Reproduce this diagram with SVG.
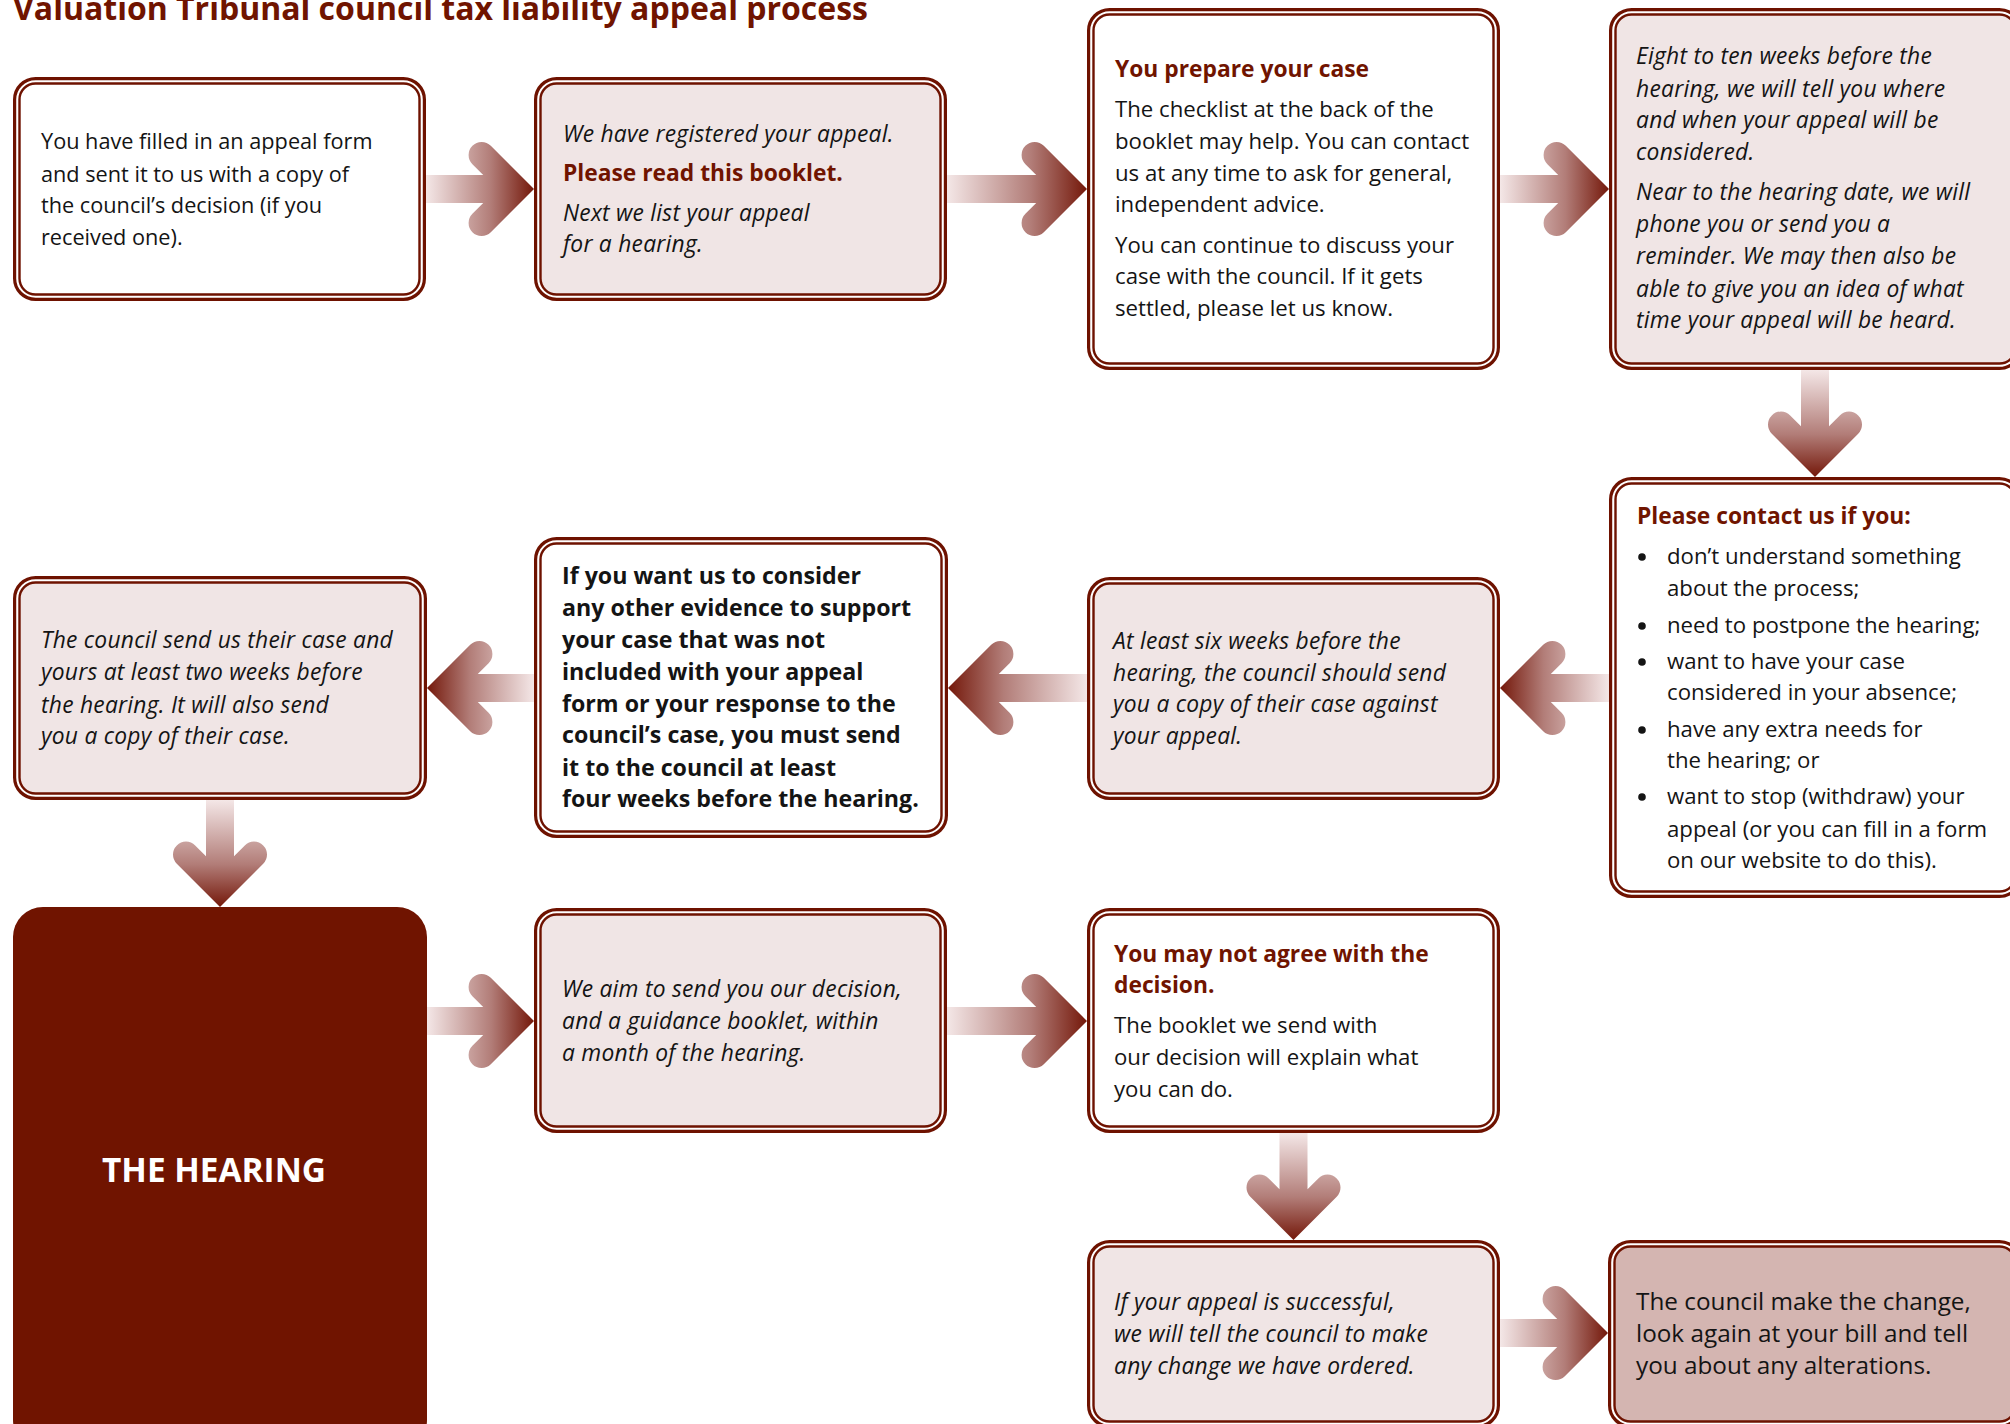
<svg xmlns="http://www.w3.org/2000/svg" width="2010" height="1424" viewBox="0 0 2010 1424">
<defs>
<linearGradient id="ag" x1="0" y1="0" x2="1" y2="0">
<stop offset="0" stop-color="#f4e7e7"/>
<stop offset="0.6" stop-color="#b27d78"/>
<stop offset="1" stop-color="#74180a"/>
</linearGradient>
<style>
.o{fill:#fff;stroke:#6e1200;stroke-width:3.2}
.i{stroke:#6e1200;stroke-width:2.4}
.w{fill:#fff}.p{fill:#f0e5e5}.d{fill:#d4b5b1}
.a{fill:url(#ag)}
text{font-family:"Open Sans","Noto Sans","DejaVu Sans",sans-serif;font-size:22.2px;fill:#141414}
.s{font-size:21.7px}
.it{font-style:italic;font-size:22.8px;letter-spacing:0.25px}
.b{font-weight:bold;font-size:23.2px}
.r{fill:#701400;font-weight:bold;font-size:22.8px}
.t{fill:#701400;font-weight:bold;font-size:32px}
.big{font-size:24.3px}
.h{fill:#fff;font-weight:bold;font-size:33.4px}
</style>
</defs>
<text class="t" x="13" y="20">Valuation Tribunal council tax liability appeal process</text>
<g id="connectors">
<path class="a" transform="translate(534,189)" d="M0,0 L-43.2,-43.2 A13,13 0 0 0 -61.6,-24.8 L-50.8,-14 L-108,-14 L-108,14 L-50.8,14 L-61.6,24.8 A13,13 0 0 0 -43.2,43.2 Z"/>
<path class="a" transform="translate(1087,189)" d="M0,0 L-43.2,-43.2 A13,13 0 0 0 -61.6,-24.8 L-50.8,-14 L-140,-14 L-140,14 L-50.8,14 L-61.6,24.8 A13,13 0 0 0 -43.2,43.2 Z"/>
<path class="a" transform="translate(1609,189)" d="M0,0 L-43.2,-43.2 A13,13 0 0 0 -61.6,-24.8 L-50.8,-14 L-109,-14 L-109,14 L-50.8,14 L-61.6,24.8 A13,13 0 0 0 -43.2,43.2 Z"/>
<path class="a" transform="translate(1815,477) rotate(90)" d="M0,0 L-43.2,-43.2 A13,13 0 0 0 -61.6,-24.8 L-50.8,-14 L-107,-14 L-107,14 L-50.8,14 L-61.6,24.8 A13,13 0 0 0 -43.2,43.2 Z"/>
<path class="a" transform="translate(1500,688) rotate(180)" d="M0,0 L-43.2,-43.2 A13,13 0 0 0 -61.6,-24.8 L-50.8,-14 L-109,-14 L-109,14 L-50.8,14 L-61.6,24.8 A13,13 0 0 0 -43.2,43.2 Z"/>
<path class="a" transform="translate(948,688) rotate(180)" d="M0,0 L-43.2,-43.2 A13,13 0 0 0 -61.6,-24.8 L-50.8,-14 L-139,-14 L-139,14 L-50.8,14 L-61.6,24.8 A13,13 0 0 0 -43.2,43.2 Z"/>
<path class="a" transform="translate(427,688) rotate(180)" d="M0,0 L-43.2,-43.2 A13,13 0 0 0 -61.6,-24.8 L-50.8,-14 L-107,-14 L-107,14 L-50.8,14 L-61.6,24.8 A13,13 0 0 0 -43.2,43.2 Z"/>
<path class="a" transform="translate(220,907) rotate(90)" d="M0,0 L-43.2,-43.2 A13,13 0 0 0 -61.6,-24.8 L-50.8,-14 L-107,-14 L-107,14 L-50.8,14 L-61.6,24.8 A13,13 0 0 0 -43.2,43.2 Z"/>
<path class="a" transform="translate(534,1021)" d="M0,0 L-43.2,-43.2 A13,13 0 0 0 -61.6,-24.8 L-50.8,-14 L-107,-14 L-107,14 L-50.8,14 L-61.6,24.8 A13,13 0 0 0 -43.2,43.2 Z"/>
<path class="a" transform="translate(1087,1021)" d="M0,0 L-43.2,-43.2 A13,13 0 0 0 -61.6,-24.8 L-50.8,-14 L-140,-14 L-140,14 L-50.8,14 L-61.6,24.8 A13,13 0 0 0 -43.2,43.2 Z"/>
<path class="a" transform="translate(1293.5,1240) rotate(90)" d="M0,0 L-43.2,-43.2 A13,13 0 0 0 -61.6,-24.8 L-50.8,-14 L-107,-14 L-107,14 L-50.8,14 L-61.6,24.8 A13,13 0 0 0 -43.2,43.2 Z"/>
<path class="a" transform="translate(1608,1333)" d="M0,0 L-43.2,-43.2 A13,13 0 0 0 -61.6,-24.8 L-50.8,-14 L-108,-14 L-108,14 L-50.8,14 L-61.6,24.8 A13,13 0 0 0 -43.2,43.2 Z"/>
</g>
<g id="n1">
<rect class="o" x="14.6" y="78.6" width="409.8" height="220.8" rx="21"/>
<rect class="i w" x="19.5" y="83.5" width="400" height="211" rx="16"/>
<text class="s" x="41" y="149">You have filled in an appeal form</text>
<text class="s" x="41" y="182">and sent it to us with a copy of</text>
<text class="s" x="41" y="213">the council’s decision (if you</text>
<text class="s" x="41" y="245">received one).</text>
</g>
<g id="n2">
<rect class="o" x="535.6" y="78.6" width="409.8" height="220.8" rx="21"/>
<rect class="i p" x="540.5" y="83.5" width="400" height="211" rx="16"/>
<text class="it" x="563" y="142">We have registered your appeal.</text>
<text class="r" x="563" y="181">Please read this booklet.</text>
<text class="it" x="563" y="221">Next we list your appeal</text>
<text class="it" x="563" y="252">for a hearing.</text>
</g>
<g id="n3">
<rect class="o" x="1088.6" y="9.6" width="409.8" height="358.8" rx="21"/>
<rect class="i w" x="1093.5" y="14.5" width="400" height="349" rx="16"/>
<text class="r" x="1115" y="77">You prepare your case</text>
<text x="1115" y="117">The checklist at the back of the</text>
<text x="1115" y="149">booklet may help. You can contact</text>
<text x="1115" y="181">us at any time to ask for general,</text>
<text x="1115" y="212">independent advice.</text>
<text x="1115" y="253">You can continue to discuss your</text>
<text x="1115" y="284">case with the council. If it gets</text>
<text x="1115" y="316">settled, please let us know.</text>
</g>
<g id="n4">
<rect class="o" x="1610.6" y="9.6" width="409.8" height="358.8" rx="21"/>
<rect class="i p" x="1615.5" y="14.5" width="400" height="349" rx="16"/>
<text class="it" x="1636" y="64">Eight to ten weeks before the</text>
<text class="it" x="1636" y="97">hearing, we will tell you where</text>
<text class="it" x="1636" y="128">and when your appeal will be</text>
<text class="it" x="1636" y="160">considered.</text>
<text class="it" x="1636" y="200">Near to the hearing date, we will</text>
<text class="it" x="1636" y="232">phone you or send you a</text>
<text class="it" x="1636" y="264">reminder. We may then also be</text>
<text class="it" x="1636" y="297">able to give you an idea of what</text>
<text class="it" x="1636" y="328">time your appeal will be heard.</text>
</g>
<g id="n5">
<rect class="o" x="1610.6" y="478.6" width="409.8" height="417.8" rx="21"/>
<rect class="i w" x="1615.5" y="483.5" width="400" height="408" rx="16"/>
<text class="r" x="1637" y="524">Please contact us if you:</text>
<circle cx="1642" cy="557" r="3.8" fill="#141414"/>
<circle cx="1642" cy="626" r="3.8" fill="#141414"/>
<circle cx="1642" cy="662" r="3.8" fill="#141414"/>
<circle cx="1642" cy="730" r="3.8" fill="#141414"/>
<circle cx="1642" cy="797" r="3.8" fill="#141414"/>
<text x="1667" y="564">don’t understand something</text>
<text x="1667" y="596">about the process;</text>
<text x="1667" y="633">need to postpone the hearing;</text>
<text x="1667" y="669">want to have your case</text>
<text x="1667" y="700">considered in your absence;</text>
<text x="1667" y="737">have any extra needs for</text>
<text x="1667" y="768">the hearing; or</text>
<text x="1667" y="804">want to stop (withdraw) your</text>
<text x="1667" y="837">appeal (or you can fill in a form</text>
<text x="1667" y="868">on our website to do this).</text>
</g>
<g id="n6">
<rect class="o" x="1088.6" y="578.6" width="409.8" height="219.8" rx="21"/>
<rect class="i p" x="1093.5" y="583.5" width="400" height="210" rx="16"/>
<text class="it" x="1113" y="649">At least six weeks before the</text>
<text class="it" x="1113" y="681">hearing, the council should send</text>
<text class="it" x="1113" y="712">you a copy of their case against</text>
<text class="it" x="1113" y="744">your appeal.</text>
</g>
<g id="n7">
<rect class="o" x="535.6" y="538.6" width="410.8" height="297.8" rx="21"/>
<rect class="i w" x="540.5" y="543.5" width="401" height="288" rx="16"/>
<text class="b" x="562" y="584">If you want us to consider</text>
<text class="b" x="562" y="616">any other evidence to support</text>
<text class="b" x="562" y="648">your case that was not</text>
<text class="b" x="562" y="680">included with your appeal</text>
<text class="b" x="562" y="712">form or your response to the</text>
<text class="b" x="562" y="743">council’s case, you must send</text>
<text class="b" x="562" y="776">it to the council at least</text>
<text class="b" x="562" y="807">four weeks before the hearing.</text>
</g>
<g id="n8">
<rect class="o" x="14.6" y="577.6" width="410.8" height="220.8" rx="21"/>
<rect class="i p" x="19.5" y="582.5" width="401" height="211" rx="16"/>
<text class="it" x="41" y="648">The council send us their case and</text>
<text class="it" x="41" y="680">yours at least two weeks before</text>
<text class="it" x="41" y="713">the hearing. It will also send</text>
<text class="it" x="41" y="744">you a copy of their case.</text>
</g>
<g id="hearing">
<rect x="13" y="907" width="414" height="543" rx="30" fill="#701400"/>
<text class="h" x="102" y="1182">THE HEARING</text>
</g>
<g id="n9">
<rect class="o" x="535.6" y="909.6" width="409.8" height="221.8" rx="21"/>
<rect class="i p" x="540.5" y="914.5" width="400" height="212" rx="16"/>
<text class="it" x="562" y="997">We aim to send you our decision,</text>
<text class="it" x="562" y="1029">and a guidance booklet, within</text>
<text class="it" x="562" y="1061">a month of the hearing.</text>
</g>
<g id="n10">
<rect class="o" x="1088.6" y="909.6" width="409.8" height="221.8" rx="21"/>
<rect class="i w" x="1093.5" y="914.5" width="400" height="212" rx="16"/>
<text class="r" x="1114" y="962">You may not agree with the</text>
<text class="r" x="1114" y="993">decision.</text>
<text x="1114" y="1033">The booklet we send with</text>
<text x="1114" y="1065">our decision will explain what</text>
<text x="1114" y="1097">you can do.</text>
</g>
<g id="n11">
<rect class="o" x="1088.6" y="1241.6" width="409.8" height="184.8" rx="21"/>
<rect class="i p" x="1093.5" y="1246.5" width="400" height="175" rx="16"/>
<text class="it" x="1114" y="1310">If your appeal is successful,</text>
<text class="it" x="1114" y="1342">we will tell the council to make</text>
<text class="it" x="1114" y="1374">any change we have ordered.</text>
</g>
<g id="n12">
<rect class="o" x="1609.6" y="1241.6" width="410.8" height="184.8" rx="21"/>
<rect class="i d" x="1614.5" y="1246.5" width="401" height="175" rx="16"/>
<text class="big" x="1636" y="1310">The council make the change,</text>
<text class="big" x="1636" y="1342">look again at your bill and tell</text>
<text class="big" x="1636" y="1374">you about any alterations.</text>
</g>
</svg>
